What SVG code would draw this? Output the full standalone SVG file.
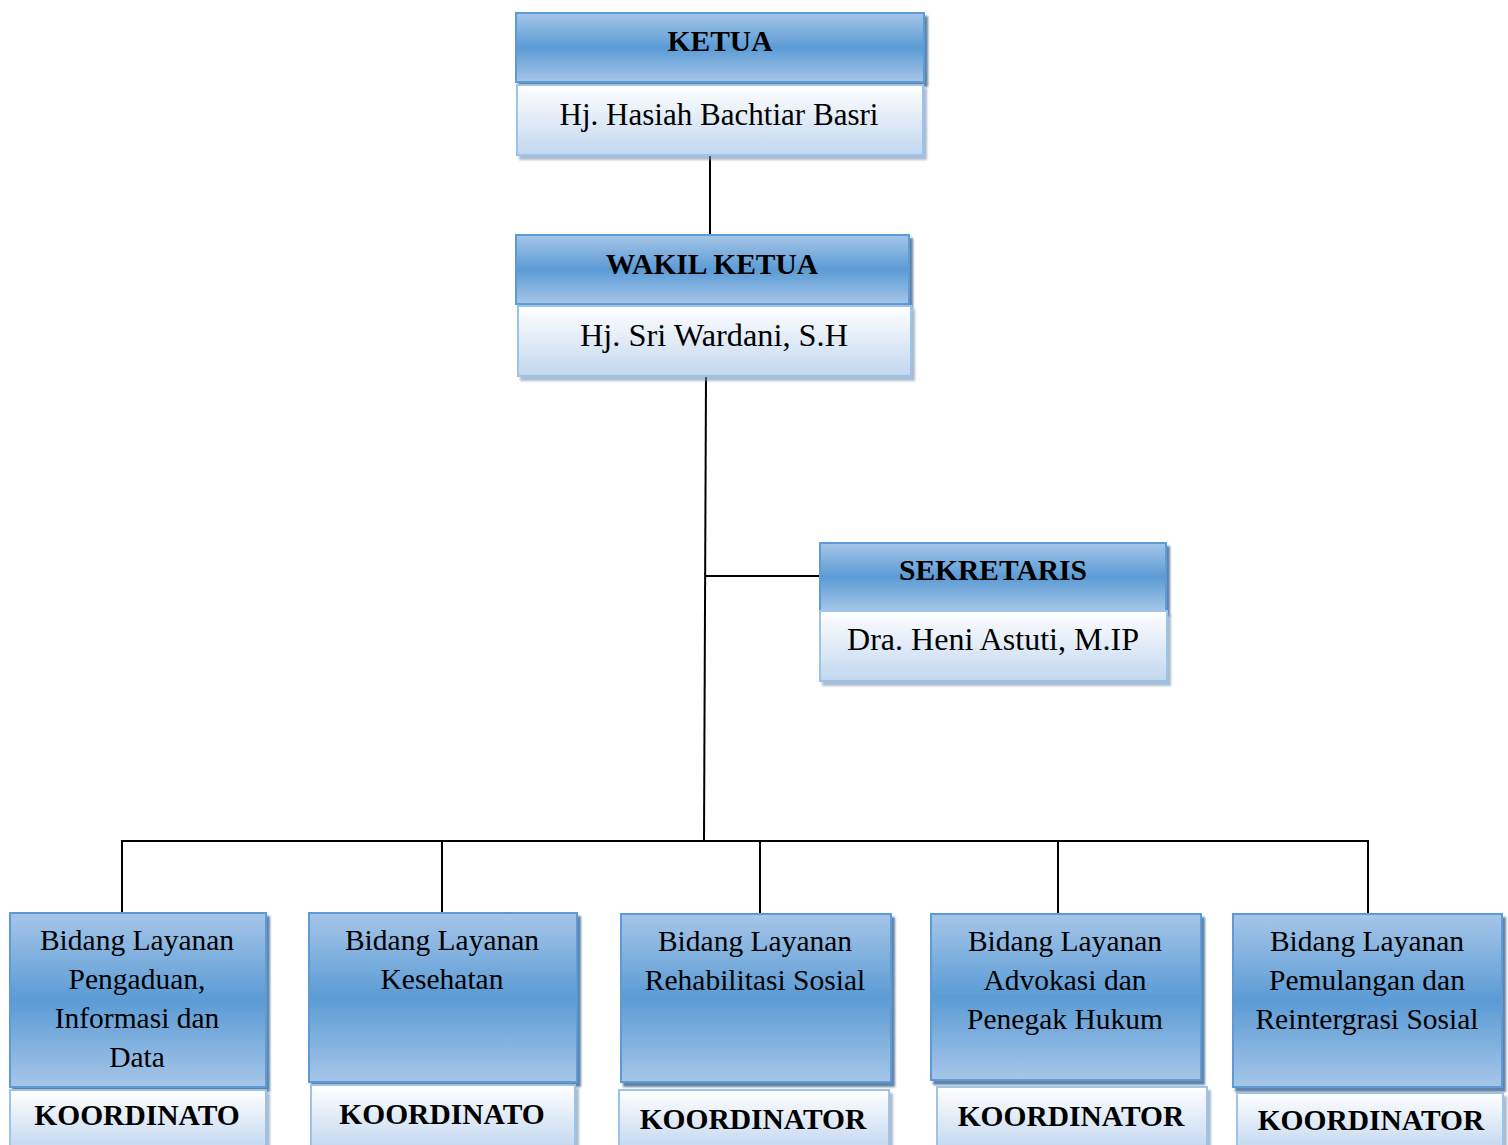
<svg xmlns="http://www.w3.org/2000/svg" width="1508" height="1145" viewBox="0 0 1508 1145">
<defs>
<linearGradient id="gBlue" x1="0" y1="0" x2="0" y2="1">
<stop offset="0" stop-color="#a6c6e8"/>
<stop offset="0.5" stop-color="#5b9bd5"/>
<stop offset="1" stop-color="#a6c6e8"/>
</linearGradient>
<linearGradient id="gLight" x1="0" y1="0" x2="0" y2="1">
<stop offset="0" stop-color="#ffffff"/>
<stop offset="1" stop-color="#c2d7ef"/>
</linearGradient>
<filter id="sh" x="-5%" y="-5%" width="115%" height="130%">
<feDropShadow dx="3" dy="4" stdDeviation="1" flood-color="#2f5a86" flood-opacity="0.75"/>
</filter>
<filter id="shL" x="-5%" y="-5%" width="115%" height="130%">
<feDropShadow dx="3" dy="4" stdDeviation="1" flood-color="#6f8fb3" flood-opacity="0.6"/>
</filter>
</defs>
<style>
.hb{fill:url(#gBlue);stroke:#5b9bd5;stroke-width:2;filter:url(#sh)}
.lb{fill:url(#gLight);stroke:#9dc3e6;stroke-width:2;filter:url(#shL)}
.t{font-family:"Liberation Serif","Times New Roman",serif;fill:#000;text-anchor:middle}
.b{font-weight:bold;font-size:29.5px}
.n{font-size:31px}
.r{font-size:29.5px}
.ln{stroke:#000;stroke-width:2;fill:none}
</style>
<g id="connectors">
<line class="ln" x1="710" y1="155" x2="710" y2="234"/>
<line class="ln" x1="706" y1="376" x2="704" y2="841"/>
<line class="ln" x1="706" y1="576" x2="819" y2="576"/>
<line class="ln" x1="121" y1="841" x2="1369" y2="841"/>
<line class="ln" x1="122" y1="841" x2="122" y2="912"/>
<line class="ln" x1="442" y1="841" x2="442" y2="912"/>
<line class="ln" x1="760" y1="841" x2="760" y2="913"/>
<line class="ln" x1="1058" y1="841" x2="1058" y2="913"/>
<line class="ln" x1="1368" y1="841" x2="1368" y2="913"/>
</g>
<g id="ketua">
<rect class="hb" x="516" y="13" width="408" height="69"/>
<rect class="lb" x="517" y="85" width="406" height="70"/>
<text class="t b" x="720" y="51">KETUA</text>
<text class="t n" x="719" y="125" textLength="319" lengthAdjust="spacingAndGlyphs">Hj. Hasiah Bachtiar Basri</text>
</g>
<g id="wakil">
<rect class="hb" x="516" y="235" width="393" height="69"/>
<rect class="lb" x="518" y="306" width="393" height="70"/>
<text class="t b" x="712" y="274">WAKIL KETUA</text>
<text class="t n" x="714" y="346" textLength="268" lengthAdjust="spacingAndGlyphs">Hj. Sri Wardani, S.H</text>
</g>
<g id="sekretaris">
<rect class="hb" x="820" y="543" width="346" height="68"/>
<rect class="lb" x="820" y="611" width="347" height="70"/>
<text class="t b" x="993" y="580">SEKRETARIS</text>
<text class="t n" x="993" y="650" textLength="292" lengthAdjust="spacingAndGlyphs">Dra. Heni Astuti, M.IP</text>
</g>
<g id="bidang1">
<rect class="hb" x="10" y="913" width="256" height="174"/>
<rect class="lb" x="10" y="1090" width="256" height="60"/>
<text class="t r" x="137" y="950">Bidang Layanan</text>
<text class="t r" x="137" y="989">Pengaduan,</text>
<text class="t r" x="137" y="1028">Informasi dan</text>
<text class="t r" x="137" y="1067">Data</text>
<text class="t b" x="137" y="1125">KOORDINATO</text>
</g>
<g id="bidang2">
<rect class="hb" x="309" y="913" width="268" height="169"/>
<rect class="lb" x="311" y="1085" width="264" height="65"/>
<text class="t r" x="442" y="950">Bidang Layanan</text>
<text class="t r" x="442" y="989">Kesehatan</text>
<text class="t b" x="442" y="1124">KOORDINATO</text>
</g>
<g id="bidang3">
<rect class="hb" x="621" y="914" width="270" height="168"/>
<rect class="lb" x="619" y="1090" width="270" height="60"/>
<text class="t r" x="755" y="951">Bidang Layanan</text>
<text class="t r" x="755" y="990">Rehabilitasi Sosial</text>
<text class="t b" x="753" y="1129">KOORDINATOR</text>
</g>
<g id="bidang4">
<rect class="hb" x="931" y="914" width="270" height="166"/>
<rect class="lb" x="937" y="1087" width="270" height="63"/>
<text class="t r" x="1065" y="951">Bidang Layanan</text>
<text class="t r" x="1065" y="990">Advokasi dan</text>
<text class="t r" x="1065" y="1029">Penegak Hukum</text>
<text class="t b" x="1071" y="1126">KOORDINATOR</text>
</g>
<g id="bidang5">
<rect class="hb" x="1233" y="914" width="269" height="173"/>
<rect class="lb" x="1237" y="1093" width="266" height="57"/>
<text class="t r" x="1367" y="951">Bidang Layanan</text>
<text class="t r" x="1367" y="990">Pemulangan dan</text>
<text class="t r" x="1367" y="1029">Reintergrasi Sosial</text>
<text class="t b" x="1371" y="1130">KOORDINATOR</text>
</g>
</svg>
